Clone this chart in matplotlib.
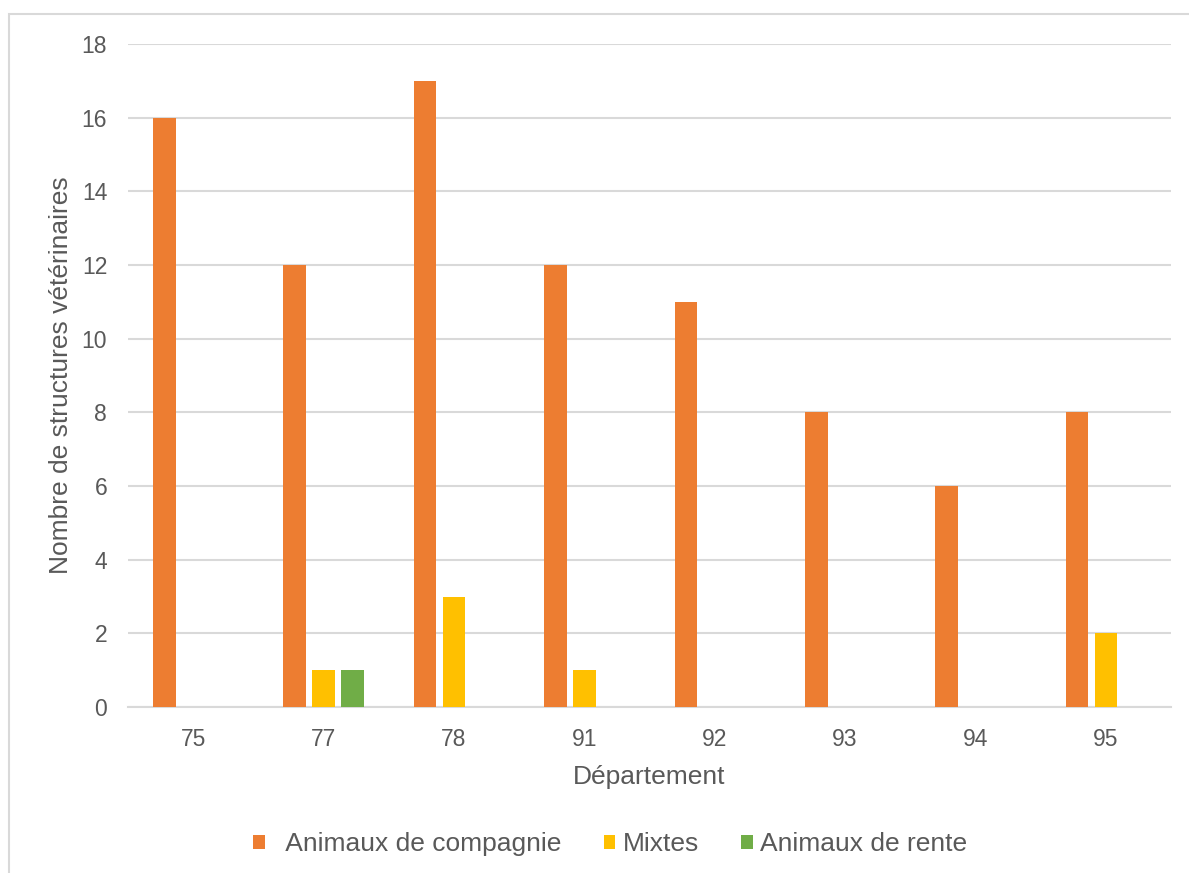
import numpy as np
import matplotlib.pyplot as plt
from matplotlib.patches import Rectangle

departements = ["75", "77", "78", "91", "92", "93", "94", "95"]
compagnie = [16, 12, 17, 12, 11, 8, 6, 8]
mixtes = [0, 1, 3, 1, 0, 0, 0, 2]
rente = [0, 1, 0, 0, 0, 0, 0, 0]

plt.rcParams['font.family'] = ['Liberation Sans', 'DejaVu Sans']
grey_txt = "#595959"

fig = plt.figure(figsize=(11.89, 8.73), dpi=100)
# outer frame like the Excel chart area
fig.patches.append(Rectangle((9 / 1189, -0.1), 1.2, 1 - 14 / 873 + 0.1,
                             transform=fig.transFigure, fill=False,
                             edgecolor="#D9D9D9", linewidth=1.5))

ax = fig.add_axes([128 / 1189, 1 - 707 / 873, (1171 - 128) / 1189, (707 - 44) / 873])

x = np.arange(len(departements))
w = 0.173
step = 0.221
ax.bar(x - step, compagnie, w, color="#ED7D31", label="  Animaux de compagnie", zorder=3)
ax.bar(x, mixtes, w, color="#FFC000", label="Mixtes", zorder=3)
ax.bar(x + step, rente, w, color="#70AD47", label="Animaux de rente", zorder=3)

ax.set_xlim(-0.5, len(departements) - 0.5)
ax.set_ylim(0, 18)
ax.set_yticks(range(0, 19, 2))
ax.set_xticks(x)
ax.set_xticklabels(departements)
ax.grid(axis="y", color="#D9D9D9", linewidth=1.5, zorder=0)
for s in ["top", "right", "left"]:
    ax.spines[s].set_visible(False)
ax.spines["bottom"].set_color("#D9D9D9")
ax.spines["bottom"].set_linewidth(1.5)
ax.tick_params(length=0, labelsize=16.5, colors=grey_txt)
ax.tick_params(axis="y", pad=15)
ax.tick_params(axis="x", pad=15)

ax.set_xlabel("Département", fontsize=19, color=grey_txt, labelpad=10)
ax.set_ylabel("Nombre de structures vétérinaires", fontsize=19, color=grey_txt, labelpad=6)

fig.legend(loc="center", bbox_to_anchor=(610 / 1189, 1 - 844 / 873), ncol=3,
           frameon=False, fontsize=19, labelcolor=grey_txt, handlelength=0.45,
           handleheight=0.45, handletextpad=0.27, columnspacing=1.6)

fig.savefig("out.png", dpi=100)
